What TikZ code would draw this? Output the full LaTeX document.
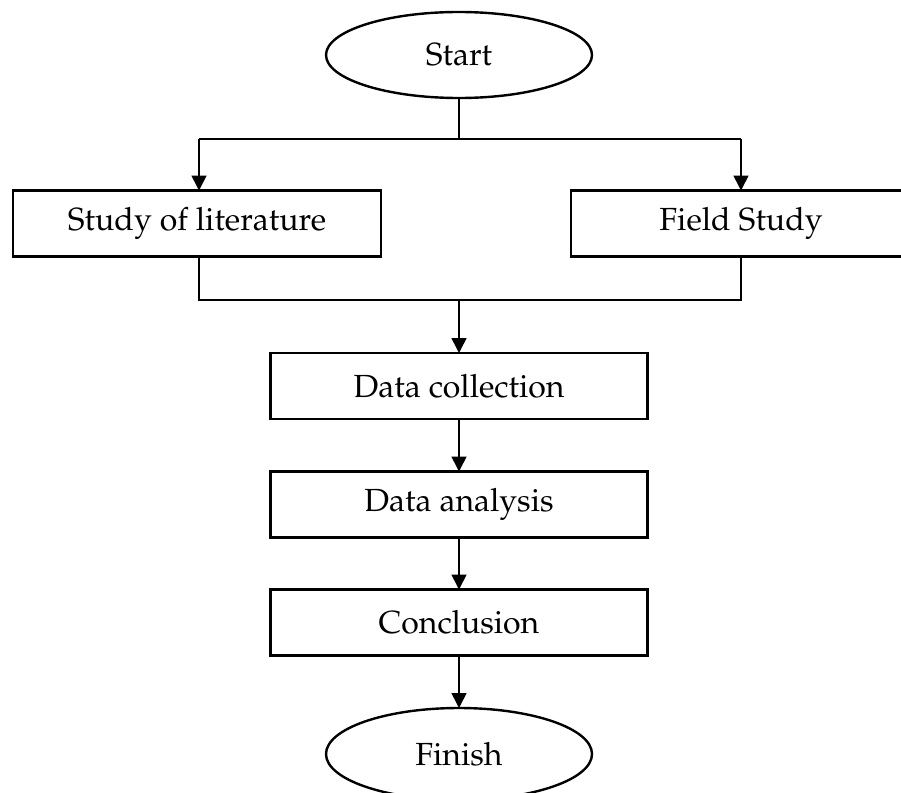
\documentclass[tikz,border=0pt]{standalone}
\usepackage[T1]{fontenc}
\usepackage{mathpazo}
\usetikzlibrary{arrows.meta,shapes.geometric}
\begin{document}
\begin{tikzpicture}[x=1pt,y=-1pt,
  every node/.style={font=\fontsize{32}{38}\selectfont, inner sep=0pt, outer sep=0pt},
  term/.style={ellipse, draw, line width=2.4pt, minimum width=266pt, minimum height=86pt},
  proc/.style={rectangle, draw, line width=2.4pt, minimum height=66pt},
  conn/.style={line width=1.6pt},
  arr/.style={conn, -{Triangle[length=15pt,width=15pt]}}]
\useasboundingbox (0,0) rectangle (901,792);
\clip (0,0) rectangle (901,792);
\node[term] (start) at (459,55) {Start};
\node[proc, minimum width=368pt] (lit) at (197,223.5) {Study of literature};
\node[proc, minimum width=340pt] (field) at (741,223.5) {Field Study};
\node[proc, minimum width=377pt] (dc) at (459,386) {Data collection};
\node[proc, minimum width=377pt] (da) at (459,504.5) {Data analysis};
\node[proc, minimum width=377pt] (con) at (459,622.5) {Conclusion};
\node[term, minimum height=92pt] (fin) at (459,754) {Finish};
\coordinate (j1) at (459,139);
\coordinate (a1) at (199,139);
\coordinate (b1) at (741,139);
\coordinate (a2) at (199,300);
\coordinate (b2) at (741,300);
\coordinate (j2) at (459,300);
\draw[conn] (start.south) -- (j1);
\draw[conn] (a1) -- (b1);
\draw[arr] (a1) -- (a1 |- lit.north);
\draw[arr] (b1) -- (field.north);
\draw[conn] (a2 |- lit.south) -- (a2) -- (b2) -- (field.south);
\draw[arr] (j2) -- (dc.north);
\draw[arr] (dc.south) -- (da.north);
\draw[arr] (da.south) -- (con.north);
\draw[arr] (con.south) -- (fin.north);
\end{tikzpicture}
\end{document}
